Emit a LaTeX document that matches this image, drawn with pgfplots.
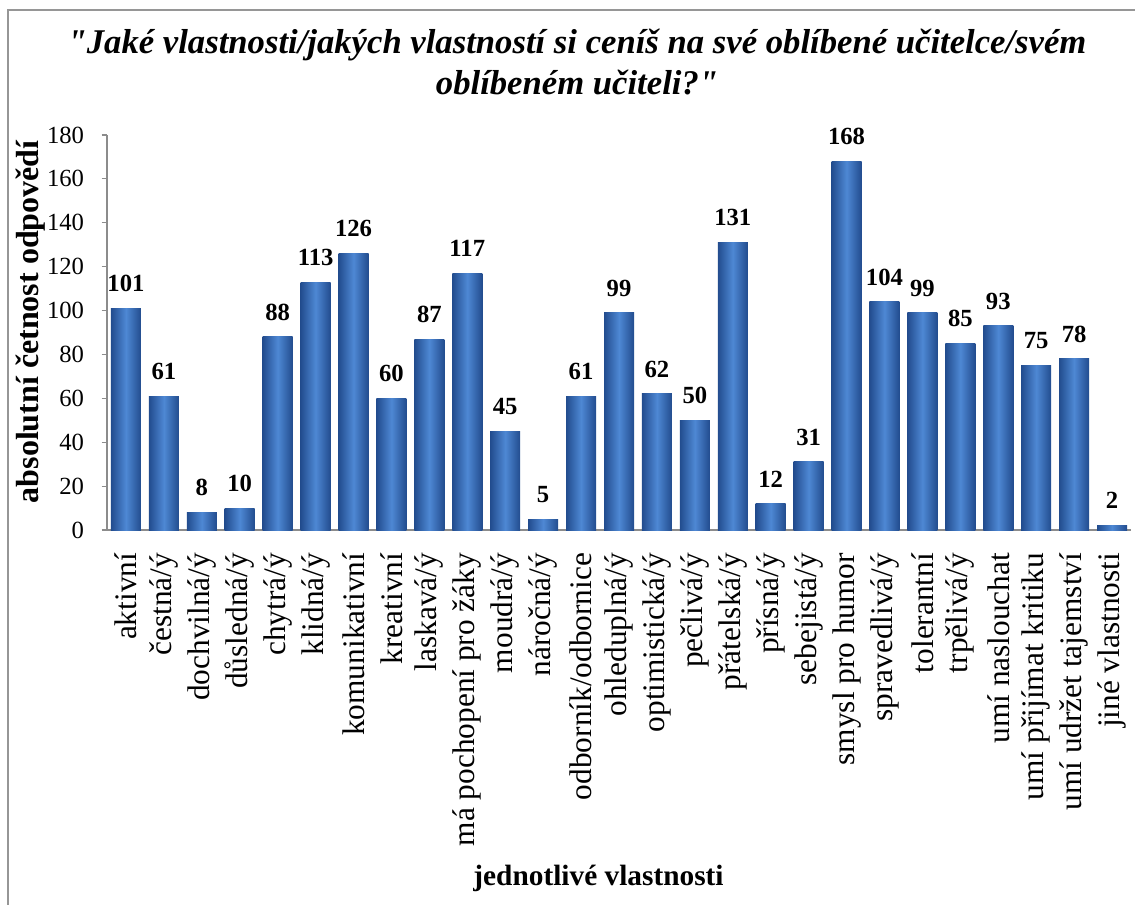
\documentclass[border=0pt]{standalone}
\usepackage{fontspec}
\setmainfont{Liberation Serif}[Ligatures=TeXOff]
\usepackage{pgfplots}
\pgfplotsset{compat=1.18}
\definecolor{barDark}{RGB}{34,76,142}
\definecolor{barMid}{RGB}{78,136,212}
\definecolor{frameGray}{RGB}{150,150,150}
\definecolor{axisGray}{RGB}{140,140,140}
\tikzset{barbevel/.style={draw=none, left color=barDark, right color=barDark, middle color=barMid, bar shift=0pt}}
\newcommand{\yt}[1]{\mbox{\fontsize{18.5}{20}\selectfont #1}}
\begin{document}
\begin{tikzpicture}
\path[use as bounding box] (0,0) rectangle (851.25pt,-678.75pt);
\draw[frameGray, line width=1.5pt] (6pt,-678.75pt) -- (6pt,-7.5pt) -- (851.25pt,-7.5pt);
\node[anchor=base, inner sep=0pt, font=\fontsize{26}{30}\selectfont\bfseries\itshape] at (432.75pt,-40.5pt) {"Jaké vlastnosti/jakých vlastností si ceníš na své oblíbené učitelce/svém};
\node[anchor=base, inner sep=0pt, font=\fontsize{26}{30}\selectfont\bfseries\itshape] at (432.75pt,-71pt) {oblíbeném učiteli?"};
\begin{axis}[
  at={(80.25pt,-397.5pt)}, anchor=south west,
  scale only axis, width=768pt, height=296.25pt,
  ymin=0, ymax=180, ytick={0,20,40,60,80,100,120,140,160,180},
  yticklabels={\yt{0},\yt{20},\yt{40},\yt{60},\yt{80},\yt{100},\yt{120},\yt{140},\yt{160},\yt{180}},
  xmin=-0.5, xmax=26.5,
  xtick={0,...,26},
  xticklabels={aktivní, čestná/ý, dochvilná/ý, důsledná/ý, chytrá/ý, klidná/ý, komunikativní, kreativní, laskavá/ý, má pochopení pro žáky, moudrá/ý, náročná/ý, odborník/odbornice, ohleduplná/ý, optimistická/ý, pečlivá/ý, přátelská/ý, přísná/ý, sebejistá/ý, smysl pro humor, spravedlivá/ý, tolerantní, trpělivá/ý, umí naslouchat, umí přijímat kritiku, umí udržet tajemství, jiné vlastnosti},
  axis lines*=left,
  axis line style={axisGray, line width=0.9pt},
  x tick style={draw=none},
  y tick style={axisGray, line width=0.8pt},
  tick align=outside, major tick length=4pt,
  /pgf/number format/assume math mode=true,
  tick label style={font=\fontsize{18.5}{20}\selectfont},
  yticklabel style={inner sep=0pt, xshift=-13pt, font=\fontsize{18.5}{20}\selectfont},
  xticklabel style={yshift=-13pt, rotate=90, anchor=east, inner sep=0pt, font=\fontsize{23.5}{26}\selectfont},
  ybar, bar width=22.5pt,
  every axis plot post/.append style={bar shift=0pt},
  nodes near coords,
  nodes near coords style={font=\fontsize{18.5}{20}\selectfont\bfseries, anchor=base, yshift=12.5pt, inner sep=0pt},
  ylabel={absolutní četnost odpovědí},
  ylabel style={at={(rel axis cs:-0.075,0.527)}, anchor=center, font=\fontsize{24}{26}\selectfont\bfseries},
  xlabel={jednotlivé vlastnosti},
  xlabel style={at={(rel axis cs:0.480,-0.899)}, anchor=base, font=\fontsize{22}{24}\selectfont\bfseries},
]
\addplot[barbevel] coordinates {(0,101)};
\addplot[barbevel] coordinates {(1,61)};
\addplot[barbevel] coordinates {(2,8)};
\addplot[barbevel] coordinates {(3,10)};
\addplot[barbevel] coordinates {(4,88)};
\addplot[barbevel] coordinates {(5,113)};
\addplot[barbevel] coordinates {(6,126)};
\addplot[barbevel] coordinates {(7,60)};
\addplot[barbevel] coordinates {(8,87)};
\addplot[barbevel] coordinates {(9,117)};
\addplot[barbevel] coordinates {(10,45)};
\addplot[barbevel] coordinates {(11,5)};
\addplot[barbevel] coordinates {(12,61)};
\addplot[barbevel] coordinates {(13,99)};
\addplot[barbevel] coordinates {(14,62)};
\addplot[barbevel] coordinates {(15,50)};
\addplot[barbevel] coordinates {(16,131)};
\addplot[barbevel] coordinates {(17,12)};
\addplot[barbevel] coordinates {(18,31)};
\addplot[barbevel] coordinates {(19,168)};
\addplot[barbevel] coordinates {(20,104)};
\addplot[barbevel] coordinates {(21,99)};
\addplot[barbevel] coordinates {(22,85)};
\addplot[barbevel] coordinates {(23,93)};
\addplot[barbevel] coordinates {(24,75)};
\addplot[barbevel] coordinates {(25,78)};
\addplot[barbevel] coordinates {(26,2)};
\end{axis}
\end{tikzpicture}
\end{document}
